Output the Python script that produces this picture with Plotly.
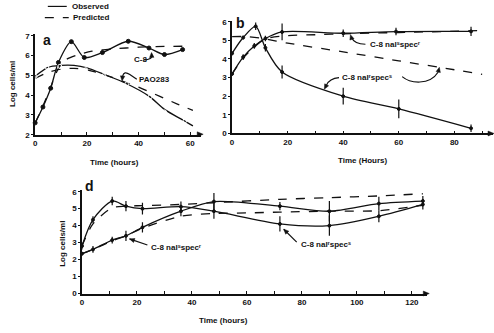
import math
import plotly.graph_objects as go

W, H = 494, 333

# ---------------- data ----------------
# Panel a
a_c8_x = [0, 3, 6, 9, 14, 19, 26, 36, 44, 50, 57]
a_c8_y = [2.6, 3.4, 4.35, 5.65, 6.7, 5.9, 6.15, 6.72, 6.38, 6.05, 6.3]
a_c8_pred_x = [0, 3, 6, 9, 12, 16, 22, 30, 40, 50, 58]
a_c8_pred_y = [2.6, 3.45, 4.4, 5.35, 5.8, 6.02, 6.22, 6.33, 6.42, 6.46, 6.47]
a_pao_x = [0, 4.5, 9.5, 19.5, 26.5, 35.5, 44.5, 50, 58]
a_pao_y = [4.95, 5.42, 5.45, 5.28, 4.98, 4.57, 3.92, 3.15, 2.72]
a_pao_fit_x = [0, 5, 10, 15, 20, 27, 35, 44, 50, 57, 61]
a_pao_fit_y = [4.95, 5.4, 5.5, 5.5, 5.38, 5.03, 4.6, 3.95, 3.28, 2.75, 2.45]
a_pao_pred_x = [0, 5, 10, 15, 20, 27, 35, 40, 48, 55, 61]
a_pao_pred_y = [4.85, 5.15, 5.32, 5.35, 5.28, 5.02, 4.65, 4.4, 3.95, 3.55, 3.23]

# Panel b
b_rs_x = [0, 4, 8.5, 12, 18, 40, 60, 86]
b_rs_y = [4.3, 5.15, 5.75, 4.6, 3.3, 2.0, 1.32, 0.28]
b_rs_err = [0.1, 0.1, 0.2, 0.2, 0.35, 0.45, 0.5, 0.2]
b_sr_x = [0, 4, 8, 12, 18, 40, 59, 86]
b_sr_y = [3.2, 4.1, 4.7, 5.1, 5.45, 5.38, 5.47, 5.48]
b_sr_err = [0.1, 0.15, 0.15, 0.15, 0.45, 0.2, 0.2, 0.25]
b_rs_pred_x = [0, 5, 10, 20, 40, 60, 80, 90]
b_rs_pred_y = [5.2, 5.2, 5.12, 4.85, 4.38, 3.9, 3.42, 3.17]
b_sr_pred_x = [0, 4, 8, 12, 20, 30, 40, 60, 89]
b_sr_pred_y = [3.2, 4.05, 4.65, 5.08, 5.25, 5.3, 5.35, 5.42, 5.52]

# Panel d
d_x = [0, 4, 11, 16, 22, 36, 48, 72, 90, 108, 124]
d_rs_y = [2.8, 4.35, 5.45, 5.15, 5.0, 5.12, 4.85, 4.1, 4.0, 4.55, 5.25]
d_rs_err = [0.2, 0.2, 0.25, 0.3, 0.35, 0.3, 0.45, 0.45, 0.6, 0.35, 0.3]
d_sr_y = [2.35, 2.6, 3.15, 3.4, 3.9, 4.85, 5.42, 5.15, 4.85, 5.3, 5.45]
d_sr_err = [0.1, 0.2, 0.2, 0.3, 0.3, 0.3, 0.5, 0.25, 0.6, 0.4, 0.3]
d_rs_pred_x = [0, 4, 11, 16, 22, 36, 48, 72, 90, 108, 124]
d_rs_pred_y = [2.8, 4.1, 5.05, 5.15, 5.18, 5.25, 5.35, 5.55, 5.65, 5.75, 5.88]
d_sr_pred_x = [0, 4, 11, 16, 22, 36, 48, 60, 72, 90, 108, 124]
d_sr_pred_y = [2.35, 2.6, 3.1, 3.4, 3.85, 4.55, 4.72, 4.75, 4.8, 4.85, 4.88, 5.2]

LBL_SR = "C-8 nal\u02e2spec\u02b3"   # nal^s spec^r
LBL_RS = "C-8 nal\u02b3spec\u02e2"   # nal^r spec^s

# ---------------- layout geometry (pixels) ----------------
PANELS = {
    "a": dict(ax=("x", "y"), px=(33.3, 200), xr=(0, 64.2), py=(31.5, 135), yr=(2, 7.1)),
    "b": dict(ax=("x2", "y2"), px=(231, 492.7), xr=(0, 93.8), py=(18.2, 133.7), yr=(0, 6.05)),
    "d": dict(ax=("x3", "y3"), px=(80.3, 426.7), xr=(0, 125.5), py=(191.6, 297.7), yr=(0, 6.1)),
}

def to_px(p, x, y):
    g = PANELS[p]
    X = g["px"][0] + (x - g["xr"][0]) / (g["xr"][1] - g["xr"][0]) * (g["px"][1] - g["px"][0])
    Y = g["py"][1] - (y - g["yr"][0]) / (g["yr"][1] - g["yr"][0]) * (g["py"][1] - g["py"][0])
    return X, Y

BLK = "#111111"
fig = go.Figure()

def line(x, y, ax, dash="solid", w=1.3):
    fig.add_trace(go.Scatter(x=x, y=y, xaxis=ax[0], yaxis=ax[1], mode="lines",
                             line=dict(color=BLK, width=w, dash=dash, shape="spline", smoothing=0.8),
                             showlegend=False, hoverinfo="skip", cliponaxis=False))

def pts(x, y, ax, err=None, symbol="circle", size=4, withline=True):
    fig.add_trace(go.Scatter(
        x=x, y=y, xaxis=ax[0], yaxis=ax[1],
        mode="lines+markers" if withline else "markers",
        line=dict(color=BLK, width=1.3, shape="spline", smoothing=0.8),
        marker=dict(symbol=symbol, size=size, color=BLK if symbol == "circle" else "white",
                    line=dict(color=BLK, width=1)),
        error_y=dict(type="data", array=err, width=0, thickness=1.2, color=BLK, visible=err is not None),
        showlegend=False, cliponaxis=False))

A = PANELS["a"]["ax"]; B = PANELS["b"]["ax"]; D = PANELS["d"]["ax"]

# panel a
line(a_c8_pred_x, a_c8_pred_y, A, dash="dash")
line(a_pao_pred_x, a_pao_pred_y, A, dash="dash")
pts(a_c8_x, a_c8_y, A)
line(a_pao_fit_x, a_pao_fit_y, A)
pts(a_pao_x, a_pao_y, A, symbol="circle-open", withline=False)

# panel b
line(b_rs_pred_x, b_rs_pred_y, B, dash="dash")
line(b_sr_pred_x, b_sr_pred_y, B, dash="dash")
pts(b_rs_x, b_rs_y, B, err=b_rs_err, size=3)
pts(b_sr_x, b_sr_y, B, err=b_sr_err, size=3)

# panel d
line(d_rs_pred_x, d_rs_pred_y, D, dash="dash")
line(d_sr_pred_x, d_sr_pred_y, D, dash="dash")
pts(d_x, d_rs_y, D, err=d_rs_err, size=3)
pts(d_x, d_sr_y, D, err=d_sr_err, size=3)

tickfont = dict(family="Liberation Sans", size=8, color=BLK, weight="bold")

def xax(p, anchor):
    g = PANELS[p]
    return dict(domain=[g["px"][0] / W, g["px"][1] / W], range=list(g["xr"]), anchor=anchor,
                showline=True, linecolor=BLK, linewidth=1.5,
                showgrid=False, zeroline=False, tickmode="linear", tick0=0, dtick=20,
                ticks="inside", ticklen=3, tickcolor=BLK, tickfont=tickfont,
                minor=dict(dtick=10, ticks="inside", ticklen=3, tickcolor=BLK), fixedrange=True)

def yax(p, anchor):
    g = PANELS[p]
    return dict(domain=[1 - g["py"][1] / H, 1 - g["py"][0] / H], range=list(g["yr"]), anchor=anchor,
                showline=True, linecolor=BLK, linewidth=1.5,
                showgrid=False, zeroline=False, tickmode="linear", tick0=g["yr"][0], dtick=1,
                ticks="outside", ticklen=2, tickcolor=BLK, tickfont=tickfont, fixedrange=True)

fig.update_layout(
    width=W, height=H, margin=dict(l=0, r=0, t=0, b=0),
    paper_bgcolor="white", plot_bgcolor="white", showlegend=False,
    xaxis=xax("a", "y"), yaxis=yax("a", "x"),
    xaxis2=xax("b", "y2"), yaxis2=yax("b", "x2"),
    xaxis3=xax("d", "y3"), yaxis3=yax("d", "x3"),
)

lab = dict(family="Liberation Sans, DejaVu Sans", size=8, color=BLK, weight="bold")
ann = []
shapes = []

def ptxt(px, py, text, size=8, angle=0, xanchor="center"):
    ann.append(dict(x=px / W, y=1 - py / H, xref="paper", yref="paper", text=text, showarrow=False,
                    textangle=angle, xanchor=xanchor, yanchor="middle",
                    font=dict(family="Liberation Sans", size=size, color=BLK, weight="bold")))

def head_px(tx, ty, fx, fy, L=5.0, hw=2.2):
    """filled arrowhead with tip at (tx,ty) pointing away from (fx,fy), pixel coords"""
    dx, dy = tx - fx, ty - fy
    n = math.hypot(dx, dy) or 1.0
    ux, uy = dx / n, dy / n
    bx, by = tx - ux * L, ty - uy * L
    p1 = (bx - uy * hw, by + ux * hw)
    p2 = (bx + uy * hw, by - ux * hw)
    P = lambda q: f"{q[0] / W:.5f},{1 - q[1] / H:.5f}"
    shapes.append(dict(type="path", xref="paper", yref="paper",
                       path=f"M {P((tx, ty))} L {P(p1)} L {P(p2)} Z",
                       fillcolor=BLK, line=dict(color=BLK, width=0.5)))

# legend
shapes.append(dict(type="line", xref="paper", yref="paper", x0=46 / W, x1=65 / W,
                   y0=1 - 3.5 / H, y1=1 - 3.5 / H, line=dict(color=BLK, width=1.2)))
shapes.append(dict(type="line", xref="paper", yref="paper", x0=43 / W, x1=67 / W,
                   y0=1 - 15 / H, y1=1 - 15 / H, line=dict(color=BLK, width=1.2, dash="dash")))
ptxt(68, 3.5, "Observed", xanchor="left")
ptxt(69, 15, "Predicted", xanchor="left")

# panel letters
ptxt(45, 38, "a", size=14)
ptxt(239, 21, "b", size=14)
ptxt(88, 188, "d", size=14)

# axis titles
ptxt(113, 163, "Time (hours)")
ptxt(362, 161, "Time (Hours)")
ptxt(222, 325, "Time (hours)")
ptxt(10, 83, "Log cells/ml", angle=-90)
ptxt(60, 247, "Log cells/ml", angle=-90)

def dtxt(x, y, p, text, xanchor="left"):
    ax = PANELS[p]["ax"]
    ann.append(dict(x=x, y=y, xref=ax[0], yref=ax[1], text=text, showarrow=False,
                    xanchor=xanchor, yanchor="middle", font=lab))

def path(d, p):
    ax = PANELS[p]["ax"]
    shapes.append(dict(type="path", path=d, xref=ax[0], yref=ax[1], line=dict(color=BLK, width=1.2)))

def arrow(p, tx, ty, fx, fy):
    path(f"M {fx},{fy} L {tx},{ty}", p)
    a = to_px(p, tx, ty); b = to_px(p, fx, fy)
    head_px(a[0], a[1], b[0], b[1])

def tip(p, tx, ty, fx, fy):
    a = to_px(p, tx, ty); b = to_px(p, fx, fy)
    head_px(a[0], a[1], b[0], b[1])

# panel a labels
dtxt(37.5, 5.78, "a", "C-8")
path("M 42,5.78 Q 45.5,5.78 45,6.05", "a")
tip("a", 45, 6.15, 45.05, 5.98)
dtxt(39.5, 4.78, "a", "PAO283")
path("M 39.3,4.8 L 36.6,5.04 Q 34.3,5.25 33.8,4.95", "a")
tip("a", 33.6, 4.72, 33.8, 4.95)

# panel b labels
dtxt(49, 4.77, "b", LBL_SR)
path("M 48,4.79 Q 44,4.8 43,5.15", "b")
tip("b", 42.6, 5.3, 43, 5.12)
dtxt(39, 3.02, "b", LBL_RS)
path("M 38.5,3.0 Q 35,2.95 34,2.6", "b")
tip("b", 33.2, 2.38, 34, 2.6)
path("M 61.2,3.05 C 64,2.7 71,2.55 74.2,3.3", "b")
tip("b", 74.6, 3.55, 74.2, 3.3)

# panel d labels
dtxt(24.3, 2.74, "d", LBL_SR)
arrow("d", 17.3, 3.22, 23.8, 2.86)
dtxt(78.8, 2.86, "d", LBL_RS)
arrow("d", 73.4, 3.79, 78.1, 3.03)

# axis end arrowheads
for px, py in [(202, 134.5), (494, 133.7), (429, 297.7)]:
    head_px(px, py, px - 10, py, L=6, hw=2.5)

fig.update_layout(annotations=ann, shapes=shapes)
fig.write_html("out.html")
